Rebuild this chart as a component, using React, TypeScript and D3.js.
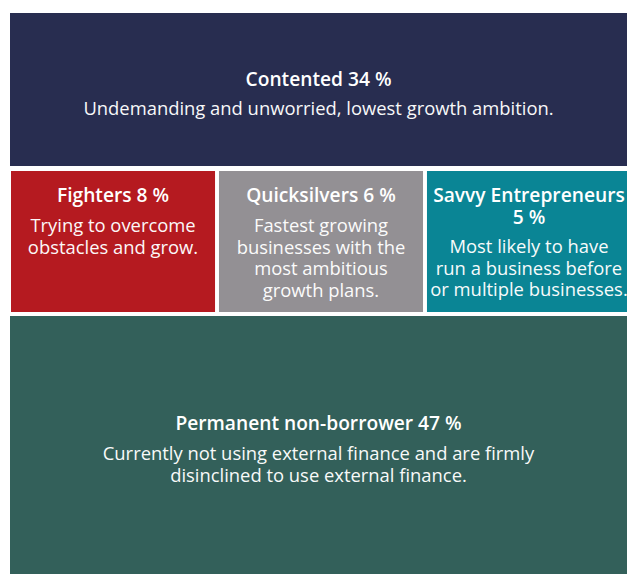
import React from "react";
import * as d3 from "d3";

const segments = ["Contented", "Fighters", "Quicksilvers", "Savvy Entrepreneurs", "Permanent non-borrower"];
const shares = [34, 8, 6, 5, 47];
const titleLines = [["Contented 34 %"], ["Fighters 8 %"], ["Quicksilvers 6 %"], ["Savvy Entrepreneurs", "5 %"], ["Permanent non-borrower 47 %"]];
const descLines = [
  ["Undemanding and unworried, lowest growth ambition."],
  ["Trying to overcome", "obstacles and grow."],
  ["Fastest growing", "businesses with the", "most ambitious", "growth plans."],
  ["Most likely to have", "run a business before", "or multiple businesses."],
  ["Currently not using external finance and are firmly", "disinclined to use external finance."],
];
const rowOf = [0, 1, 1, 1, 2];
const colors = ["#282d50", "#b51a20", "#939094", "#0a8595", "#33605a"];

const W = 627, H = 574;
// row boundaries (layout)
const rowTop = [13, 171, 316];
const rowBottom = [166, 312, 574];
const FONT = "'Open Sans', sans-serif";

export default function App() {
  const mid = segments.map((s, i) => i).filter(i => rowOf[i] === 1);
  const x = d3.scaleBand<number>().domain(mid).range([11, 631]).paddingInner(0.019);
  const rects = segments.map((s, i) => {
    const r = rowOf[i];
    if (r === 1) {
      const x0 = x(i)!;
      const w = Math.min(x.bandwidth(), W - x0);
      return { x0, y0: rowTop[r], w, h: rowBottom[r] - rowTop[r] };
    }
    return { x0: 10, y0: rowTop[r], w: W - 10, h: rowBottom[r] - rowTop[r] };
  });
  const titleY = [86, 202, 202, 202, 430];
  const descY = [115, 232, 232, 253, 460];
  return (
    <svg width={W} height={H} style={{ position: "absolute", left: 0, top: 0, display: "block" }}>
      <rect width={W} height={H} fill="#fff" />
      {segments.map((s, i) => {
        const r = rects[i];
        const cx = r.x0 + r.w / 2 + (i === 3 ? 2 : 0);
        return (
          <g key={s}>
            <rect x={r.x0} y={r.y0} width={r.w} height={r.h} fill={colors[i]} />
            <text fill="#fff" fontFamily={FONT} fontSize={19.2} fontWeight={600} textAnchor="middle">
              {titleLines[i].map((t, k) => (
                <tspan key={k} x={cx} y={titleY[i] + k * 22}>{t}</tspan>
              ))}
            </text>
            <text fill="#fff" fontFamily={FONT} fontSize={18.4} textAnchor="middle" opacity={0.97}>
              {descLines[i].map((t, k) => (
                <tspan key={k} x={cx} y={descY[i] + k * 21.7}>{t}</tspan>
              ))}
            </text>
          </g>
        );
      })}
    </svg>
  );
}
